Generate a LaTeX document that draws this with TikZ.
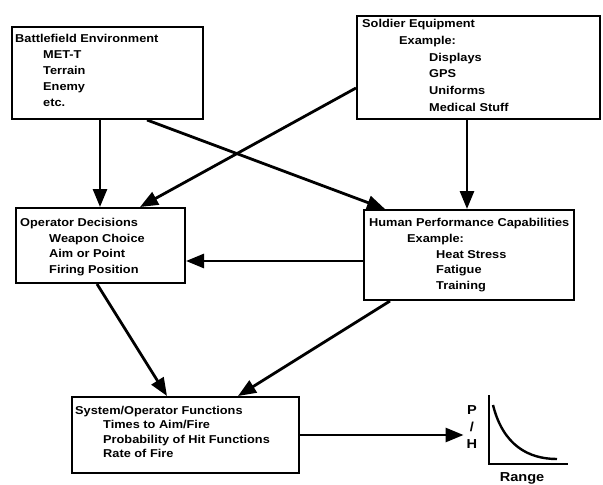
\documentclass[tikz,border=0pt]{standalone}
\usepackage{fontspec}
\setmainfont{Liberation Sans}[FakeStretch=1.12]
\usetikzlibrary{arrows.meta,calc}
\begin{document}
\begin{tikzpicture}[x=1pt,y=-1pt,
  box/.style={draw, line width=2pt, inner sep=0pt, anchor=north west},
  txt/.style={anchor=north west, inner sep=0pt, align=left, font=\fontsize{11.4}{#1}\selectfont\bfseries},
  arr/.style={line width=2.8pt, -{Triangle[length=18pt,width=14pt]}},
  lbl/.style={inner sep=0pt, font=\fontsize{13}{17}\selectfont\bfseries, align=center}]
\useasboundingbox (0,0) rectangle (603,485);
% boxes
\node[box, minimum width=191pt, minimum height=92pt] (bat) at (11,26) {};
\node[box, minimum width=243pt, minimum height=103pt] (sol) at (356,15) {};
\node[box, minimum width=169pt, minimum height=75pt] (op) at (15,207) {};
\node[box, minimum width=210pt, minimum height=90pt] (hum) at (363,209) {};
\node[box, minimum width=227pt, minimum height=76pt] (sys) at (71,396) {};
% texts
\node[txt=16pt] (battxt) at (15,34) {Battlefield Environment\\\hspace*{28pt}MET-T\\\hspace*{28pt}Terrain\\\hspace*{28pt}Enemy\\\hspace*{28pt}etc.};
\node[txt=16.8pt] (soltxt) at (362,19) {Soldier Equipment\\\hspace*{37pt}Example:\\\hspace*{67pt}Displays\\\hspace*{67pt}GPS\\\hspace*{67pt}Uniforms\\\hspace*{67pt}Medical Stuff};
\node[txt=15.7pt] (optxt) at (20,218) {Operator Decisions\\\hspace*{29pt}Weapon Choice\\\hspace*{29pt}Aim or Point\\\hspace*{29pt}Firing Position};
\node[txt=15.8pt] (humtxt) at (369,218) {Human Performance Capabilities\\\hspace*{38pt}Example:\\\hspace*{67pt}Heat Stress\\\hspace*{67pt}Fatigue\\\hspace*{67pt}Training};
\node[txt=14.3pt] (systxt) at (75,406) {System/Operator Functions\\\hspace*{28pt}Times to Aim/Fire\\\hspace*{28pt}Probability of Hit Functions\\\hspace*{28pt}Rate of Fire};
% graph
\node[lbl] (ph) at (472,427) {P\\/\\H};
\node[lbl] (range) at (522,478) {Range};
\draw[line width=2.2pt] (489,395) -- (489,464) -- (568,464);
\draw[line width=2.4pt] (493,405) .. controls (503,445) and (528,459) .. (557,459);
% connectors
\draw[arr] ([xshift=89pt]bat.south west) -- ([xshift=85pt]op.north west);
\draw[arr] ([xshift=136pt]bat.south west) -- ([xshift=22pt]hum.north west);
\draw[arr] ([yshift=-73pt]sol.north west) -- ([xshift=125pt]op.north west);
\draw[arr] ([xshift=111pt]sol.south west) -- ([xshift=104pt]hum.north west);
\draw[arr] ([yshift=-6pt]hum.west) -- ([yshift=-6pt]hum.west -| op.east);
\draw[arr] ([xshift=82pt]op.south west) -- ([xshift=96pt]sys.north west);
\draw[arr] ([xshift=27pt]hum.south west) -- ([xshift=167pt]sys.north west);
\draw[arr, shorten >=3pt] (sys.east) -- (sys.east -| ph.west);
\end{tikzpicture}
\end{document}
